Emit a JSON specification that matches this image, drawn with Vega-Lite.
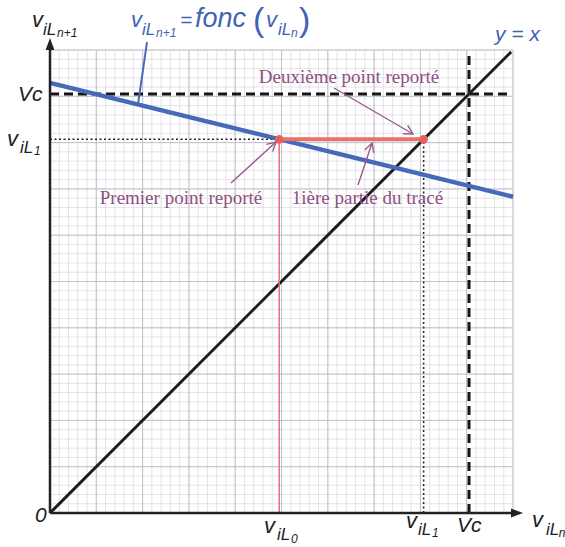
{
  "$schema": "https://vega.github.io/schema/vega-lite/v6.json",
  "width": 463,
  "height": 463,
  "autosize": {"type": "none"},
  "padding": {"left": 50, "top": 50, "right": 52, "bottom": 34},
  "background": "white",
  "config": {"view": {"stroke": null}},
  "datasets": {
    "minor": [
      {"g": 0}, {"g": 0.2}, {"g": 0.4}, {"g": 0.6}, {"g": 0.8},
      {"g": 1}, {"g": 1.2}, {"g": 1.4}, {"g": 1.6}, {"g": 1.8},
      {"g": 2}, {"g": 2.2}, {"g": 2.4}, {"g": 2.6}, {"g": 2.8},
      {"g": 3}, {"g": 3.2}, {"g": 3.4}, {"g": 3.6}, {"g": 3.8},
      {"g": 4}, {"g": 4.2}, {"g": 4.4}, {"g": 4.6}, {"g": 4.8},
      {"g": 5}, {"g": 5.2}, {"g": 5.4}, {"g": 5.6}, {"g": 5.8},
      {"g": 6}, {"g": 6.2}, {"g": 6.4}, {"g": 6.6}, {"g": 6.8},
      {"g": 7}, {"g": 7.2}, {"g": 7.4}, {"g": 7.6}, {"g": 7.8},
      {"g": 8}, {"g": 8.2}, {"g": 8.4}, {"g": 8.6}, {"g": 8.8},
      {"g": 9}, {"g": 9.2}, {"g": 9.4}, {"g": 9.6}, {"g": 9.8},
      {"g": 10}
    ],
    "major": [
      {"g": 0}, {"g": 1}, {"g": 2}, {"g": 3}, {"g": 4}, {"g": 5},
      {"g": 6}, {"g": 7}, {"g": 8}, {"g": 9}, {"g": 10}
    ],
    "segs": [
      {"kind": "vil1", "u": 0, "v": 8.07, "u2": 4.95, "v2": 8.07},
      {"kind": "vil1", "u": 8.07, "v": 0, "u2": 8.07, "v2": 8.07},
      {"kind": "vc", "u": 0, "v": 9.05, "u2": 9.9, "v2": 9.05},
      {"kind": "vc", "u": 9.05, "v": 0, "u2": 9.05, "v2": 9.9},
      {"kind": "diag", "u": 0, "v": 0, "u2": 9.96, "v2": 9.96},
      {"kind": "fonc", "u": 0, "v": 9.29, "u2": 10, "v2": 6.83},
      {"kind": "redthin", "u": 4.95, "v": 0, "u2": 4.95, "v2": 8.07},
      {"kind": "redthick", "u": 4.95, "v": 8.07, "u2": 8.07, "v2": 8.07},
      {"kind": "axis", "u": 0, "v": 0, "u2": 10.05, "v2": 0},
      {"kind": "axis", "u": 0, "v": 0, "u2": 0, "v2": 10.1},
      {"kind": "leader", "u": 2.095, "v": 10.17, "u2": 1.9, "v2": 8.82},
      {"kind": "note", "u": 6.134, "v": 9.179, "u2": 7.84, "v2": 8.186},
      {"kind": "note", "u": 3.909, "v": 7.127, "u2": 4.881, "v2": 8.013},
      {"kind": "note", "u": 6.652, "v": 7.084, "u2": 6.955, "v2": 7.991}
    ],
    "heads": [
      {"kind": "axis", "u": 10.216, "v": 0, "dir": 0},
      {"kind": "axis", "u": 0, "v": 10.26, "dir": 270},
      {"kind": "note", "u": 7.84, "v": 8.186, "dir": 120},
      {"kind": "note", "u": 4.881, "v": 8.013, "dir": 48},
      {"kind": "note", "u": 6.955, "v": 7.991, "dir": 18}
    ],
    "reported": [
      {"name": "vil0", "u": 4.95, "v": 8.07},
      {"name": "vil1", "u": 8.07, "v": 8.07}
    ],
    "labels": [
      {"t": "v", "role": "main", "ink": "black", "u": -0.389, "v": 10.497},
      {"t": "iL", "role": "sub", "ink": "black", "u": -0.151, "v": 10.324},
      {"t": "n+1", "role": "subsub", "ink": "black", "u": 0.151, "v": 10.281},
      {"t": "Vc", "role": "mid", "ink": "black", "u": -0.69, "v": 8.898},
      {"t": "v", "role": "main", "ink": "black", "u": -0.929, "v": 7.927},
      {"t": "iL", "role": "sub", "ink": "black", "u": -0.648, "v": 7.775},
      {"t": "1", "role": "subsub", "ink": "black", "u": -0.346, "v": 7.732},
      {"t": "0", "role": "mid", "ink": "black", "u": -0.324, "v": -0.194},
      {"t": "v", "role": "main", "ink": "black", "u": 4.622, "v": -0.432},
      {"t": "iL", "role": "sub", "ink": "black", "u": 4.903, "v": -0.583},
      {"t": "0", "role": "subsub", "ink": "black", "u": 5.205, "v": -0.648},
      {"t": "v", "role": "main", "ink": "black", "u": 7.689, "v": -0.324},
      {"t": "iL", "role": "sub", "ink": "black", "u": 7.948, "v": -0.475},
      {"t": "1", "role": "subsub", "ink": "black", "u": 8.25, "v": -0.518},
      {"t": "Vc", "role": "mid", "ink": "black", "u": 8.79, "v": -0.41},
      {"t": "v", "role": "main", "ink": "black", "u": 10.41, "v": -0.302},
      {"t": "iL", "role": "sub", "ink": "black", "u": 10.713, "v": -0.475},
      {"t": "n", "role": "subsub", "ink": "black", "u": 10.99, "v": -0.518},
      {"t": "v", "role": "main", "ink": "blue", "u": 1.749, "v": 10.497},
      {"t": "iL", "role": "sub", "ink": "blue", "u": 1.987, "v": 10.324},
      {"t": "n+1", "role": "subsub", "ink": "blue", "u": 2.289, "v": 10.281},
      {"t": "=", "role": "mid", "ink": "blue", "u": 2.808, "v": 10.497},
      {"t": "fonc", "role": "fonc", "ink": "blue", "u": 3.132, "v": 10.497},
      {"t": "(", "role": "paren", "ink": "blue", "u": 4.384, "v": 10.41},
      {"t": "v", "role": "main", "ink": "blue", "u": 4.665, "v": 10.497},
      {"t": "iL", "role": "sub", "ink": "blue", "u": 4.924, "v": 10.324},
      {"t": "n", "role": "subsub", "ink": "blue", "u": 5.205, "v": 10.281},
      {"t": ")", "role": "paren", "ink": "blue", "u": 5.378, "v": 10.41},
      {"t": "y = x", "role": "mid", "ink": "blue", "u": 9.611, "v": 10.194}
    ],
    "notes": [
      {"t": "Deuxième point reporté", "u": 6.458, "v": 9.287},
      {"t": "Premier point reporté", "u": 2.829, "v": 6.674},
      {"t": "1ière partie du tracé", "u": 6.857, "v": 6.674}
    ]
  },
  "layer": [
    {
      "data": {"name": "minor"},
      "mark": {"type": "rule", "color": "#d8d8e0", "strokeWidth": 0.7},
      "encoding": {
        "x": {"field": "g", "type": "quantitative", "scale": {"domain": [0, 10], "nice": false, "zero": false}, "axis": null},
        "y": {"datum": 0, "type": "quantitative", "scale": {"domain": [0, 10], "nice": false, "zero": false}, "axis": null},
        "y2": {"datum": 10}
      }
    },
    {
      "data": {"name": "minor"},
      "mark": {"type": "rule", "color": "#d8d8e0", "strokeWidth": 0.7},
      "encoding": {
        "y": {"field": "g", "type": "quantitative"},
        "x": {"datum": 0, "type": "quantitative"},
        "x2": {"datum": 10}
      }
    },
    {
      "data": {"name": "major"},
      "mark": {"type": "rule", "color": "#c2c2cb", "strokeWidth": 1},
      "encoding": {
        "x": {"field": "g", "type": "quantitative"},
        "y": {"datum": 0, "type": "quantitative"},
        "y2": {"datum": 10}
      }
    },
    {
      "data": {"name": "major"},
      "mark": {"type": "rule", "color": "#c2c2cb", "strokeWidth": 1},
      "encoding": {
        "y": {"field": "g", "type": "quantitative"},
        "x": {"datum": 0, "type": "quantitative"},
        "x2": {"datum": 10}
      }
    },
    {
      "data": {"name": "segs"},
      "transform": [{"filter": "datum.kind === 'vil1'"}],
      "mark": {"type": "rule", "color": "#222222", "strokeWidth": 1.5, "strokeDash": [2, 2.5]},
      "encoding": {
        "x": {"field": "u", "type": "quantitative"}, "x2": {"field": "u2"},
        "y": {"field": "v", "type": "quantitative"}, "y2": {"field": "v2"}
      }
    },
    {
      "data": {"name": "segs"},
      "transform": [{"filter": "datum.kind === 'vc'"}],
      "mark": {"type": "rule", "color": "#151515", "strokeWidth": 3, "strokeDash": [9, 5]},
      "encoding": {
        "x": {"field": "u", "type": "quantitative"}, "x2": {"field": "u2"},
        "y": {"field": "v", "type": "quantitative"}, "y2": {"field": "v2"}
      }
    },
    {
      "data": {"name": "segs"},
      "transform": [{"filter": "datum.kind === 'diag'"}],
      "mark": {"type": "rule", "color": "#1c1c1c", "strokeWidth": 3},
      "encoding": {
        "x": {"field": "u", "type": "quantitative"}, "x2": {"field": "u2"},
        "y": {"field": "v", "type": "quantitative"}, "y2": {"field": "v2"}
      }
    },
    {
      "data": {"name": "segs"},
      "transform": [{"filter": "datum.kind === 'fonc'"}],
      "mark": {"type": "rule", "color": "#4669b8", "strokeWidth": 4.5},
      "encoding": {
        "x": {"field": "u", "type": "quantitative"}, "x2": {"field": "u2"},
        "y": {"field": "v", "type": "quantitative"}, "y2": {"field": "v2"}
      }
    },
    {
      "data": {"name": "segs"},
      "transform": [{"filter": "datum.kind === 'redthin'"}],
      "mark": {"type": "rule", "color": "#e0707a", "strokeWidth": 1.5},
      "encoding": {
        "x": {"field": "u", "type": "quantitative"}, "x2": {"field": "u2"},
        "y": {"field": "v", "type": "quantitative"}, "y2": {"field": "v2"}
      }
    },
    {
      "data": {"name": "segs"},
      "transform": [{"filter": "datum.kind === 'redthick'"}],
      "mark": {"type": "rule", "color": "#e8716b", "strokeWidth": 4},
      "encoding": {
        "x": {"field": "u", "type": "quantitative"}, "x2": {"field": "u2"},
        "y": {"field": "v", "type": "quantitative"}, "y2": {"field": "v2"}
      }
    },
    {
      "data": {"name": "segs"},
      "transform": [{"filter": "datum.kind === 'axis'"}],
      "mark": {"type": "rule", "color": "#222222", "strokeWidth": 2.5},
      "encoding": {
        "x": {"field": "u", "type": "quantitative"}, "x2": {"field": "u2"},
        "y": {"field": "v", "type": "quantitative"}, "y2": {"field": "v2"}
      }
    },
    {
      "data": {"name": "segs"},
      "transform": [{"filter": "datum.kind === 'leader'"}],
      "mark": {"type": "rule", "color": "#4669b8", "strokeWidth": 2},
      "encoding": {
        "x": {"field": "u", "type": "quantitative"}, "x2": {"field": "u2"},
        "y": {"field": "v", "type": "quantitative"}, "y2": {"field": "v2"}
      }
    },
    {
      "data": {"name": "segs"},
      "transform": [{"filter": "datum.kind === 'note'"}],
      "mark": {"type": "rule", "color": "#9a5a8c", "strokeWidth": 1.4},
      "encoding": {
        "x": {"field": "u", "type": "quantitative"}, "x2": {"field": "u2"},
        "y": {"field": "v", "type": "quantitative"}, "y2": {"field": "v2"}
      }
    },
    {
      "data": {"name": "reported"},
      "mark": {"type": "point", "filled": true, "color": "#e8605c", "size": 75, "opacity": 1},
      "encoding": {
        "x": {"field": "u", "type": "quantitative"},
        "y": {"field": "v", "type": "quantitative"}
      }
    },
    {
      "data": {"name": "heads"},
      "transform": [{"filter": "datum.kind === 'axis'"}],
      "mark": {"type": "point", "shape": "M0,0L-3,-1.1L-3,1.1Z", "filled": true, "color": "#222222", "size": 64, "opacity": 1},
      "encoding": {
        "x": {"field": "u", "type": "quantitative"},
        "y": {"field": "v", "type": "quantitative"},
        "angle": {"field": "dir", "type": "quantitative", "scale": null}
      }
    },
    {
      "data": {"name": "heads"},
      "transform": [{"filter": "datum.kind === 'note'"}],
      "mark": {"type": "point", "shape": "M-0.6,1.1L0,0L0.6,1.1", "filled": false, "color": "#9a5a8c", "strokeWidth": 1.4, "size": 256, "opacity": 1},
      "encoding": {
        "x": {"field": "u", "type": "quantitative"},
        "y": {"field": "v", "type": "quantitative"},
        "angle": {"field": "dir", "type": "quantitative", "scale": null}
      }
    },
    {
      "data": {"name": "labels"},
      "transform": [{"filter": "datum.role === 'main'"}],
      "mark": {"type": "text", "align": "left", "baseline": "alphabetic", "font": "Liberation Sans", "fontStyle": "italic", "fontSize": 22},
      "encoding": {
        "x": {"field": "u", "type": "quantitative"},
        "y": {"field": "v", "type": "quantitative"},
        "text": {"field": "t"},
        "color": {"field": "ink", "type": "nominal", "scale": {"domain": ["black", "blue"], "range": ["#1e1e1e", "#3f63b5"]}, "legend": null}
      }
    },
    {
      "data": {"name": "labels"},
      "transform": [{"filter": "datum.role === 'sub'"}],
      "mark": {"type": "text", "align": "left", "baseline": "alphabetic", "font": "Liberation Sans", "fontStyle": "italic", "fontSize": 17},
      "encoding": {
        "x": {"field": "u", "type": "quantitative"},
        "y": {"field": "v", "type": "quantitative"},
        "text": {"field": "t"},
        "color": {"field": "ink", "type": "nominal", "legend": null}
      }
    },
    {
      "data": {"name": "labels"},
      "transform": [{"filter": "datum.role === 'subsub'"}],
      "mark": {"type": "text", "align": "left", "baseline": "alphabetic", "font": "Liberation Sans", "fontStyle": "italic", "fontSize": 12},
      "encoding": {
        "x": {"field": "u", "type": "quantitative"},
        "y": {"field": "v", "type": "quantitative"},
        "text": {"field": "t"},
        "color": {"field": "ink", "type": "nominal", "legend": null}
      }
    },
    {
      "data": {"name": "labels"},
      "transform": [{"filter": "datum.role === 'mid'"}],
      "mark": {"type": "text", "align": "left", "baseline": "alphabetic", "font": "Liberation Sans", "fontStyle": "italic", "fontSize": 21},
      "encoding": {
        "x": {"field": "u", "type": "quantitative"},
        "y": {"field": "v", "type": "quantitative"},
        "text": {"field": "t"},
        "color": {"field": "ink", "type": "nominal", "legend": null}
      }
    },
    {
      "data": {"name": "labels"},
      "transform": [{"filter": "datum.role === 'fonc'"}],
      "mark": {"type": "text", "align": "left", "baseline": "alphabetic", "font": "Liberation Sans", "fontStyle": "italic", "fontSize": 27},
      "encoding": {
        "x": {"field": "u", "type": "quantitative"},
        "y": {"field": "v", "type": "quantitative"},
        "text": {"field": "t"},
        "color": {"field": "ink", "type": "nominal", "legend": null}
      }
    },
    {
      "data": {"name": "labels"},
      "transform": [{"filter": "datum.role === 'paren'"}],
      "mark": {"type": "text", "align": "left", "baseline": "alphabetic", "font": "Liberation Sans", "fontSize": 34},
      "encoding": {
        "x": {"field": "u", "type": "quantitative"},
        "y": {"field": "v", "type": "quantitative"},
        "text": {"field": "t"},
        "color": {"field": "ink", "type": "nominal", "legend": null}
      }
    },
    {
      "data": {"name": "notes"},
      "mark": {"type": "text", "align": "center", "baseline": "alphabetic", "font": "Liberation Serif", "fontSize": 19, "color": "#8e4f80"},
      "encoding": {
        "x": {"field": "u", "type": "quantitative"},
        "y": {"field": "v", "type": "quantitative"},
        "text": {"field": "t"}
      }
    }
  ]
}
